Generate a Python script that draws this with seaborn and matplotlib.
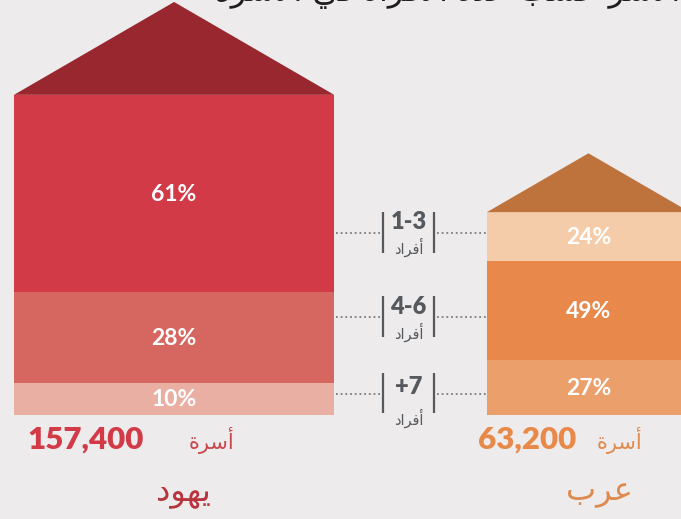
"""Households by number of members: Jews vs Arabs, drawn as two stacked 'houses'."""

import matplotlib

matplotlib.use("Agg")
import matplotlib.pyplot as plt
import numpy as np
import pandas as pd
import seaborn as sns

# ---- data -------------------------------------------------------------
groups = ["يهود", "عرب"]
households = [157400, 63200]
household_labels = ["157,400", "63,200"]
size_groups = ["1-3", "4-6", "+7"]
pct_jews = [61, 28, 10]
pct_arabs = [24, 49, 27]
unit_word = "أسرة"
members_word = "أفراد"
title = "الأسر حسب عدد الأفراد في الأسرة"

# ---- style ------------------------------------------------------------
BG = "#edebeb"
ROOF = ["#98272f", "#bf733c"]
SEG = [["#d13a46", "#d56760", "#eaafa3"], ["#f4cca9", "#e8894b", "#eba06c"]]
NUM_C = ["#d13a46", "#e8894a"]
WORD_C = ["#c9474f", "#e08a50"]
NAME_C = ["#b8353d", "#df8a4e"]
GREY = "#55595d"

AR_FONT = ["DejaVu Sans"]
NUM_FONT = ["Lato", "DejaVu Sans"]

# matplotlib has no Arabic shaping: map to presentation forms + visual order
_FOUR = {"ئ": 0xFE89, "ب": 0xFE8F, "ت": 0xFE95, "ث": 0xFE99, "ج": 0xFE9D,
         "ح": 0xFEA1, "خ": 0xFEA5, "س": 0xFEB1, "ش": 0xFEB5, "ص": 0xFEB9,
         "ض": 0xFEBD, "ط": 0xFEC1, "ظ": 0xFEC5, "ع": 0xFEC9, "غ": 0xFECD,
         "ف": 0xFED1, "ق": 0xFED5, "ك": 0xFED9, "ل": 0xFEDD, "م": 0xFEE1,
         "ن": 0xFEE5, "ه": 0xFEE9, "ي": 0xFEF1}
_TWO = {"آ": 0xFE81, "أ": 0xFE83, "ؤ": 0xFE85, "إ": 0xFE87, "ا": 0xFE8D,
        "ة": 0xFE93, "د": 0xFEA9, "ذ": 0xFEAB, "ر": 0xFEAD, "ز": 0xFEAF,
        "و": 0xFEED, "ى": 0xFEEF}
_LAM_ALEF = {"آ": 0xFEF5, "أ": 0xFEF7, "إ": 0xFEF9, "ا": 0xFEFB}


def ar(text: str) -> str:
    out = []
    i, n = 0, len(text)
    while i < n:
        c = text[i]
        joins_prev = i > 0 and text[i - 1] in _FOUR
        if c == "ل" and i + 1 < n and text[i + 1] in _LAM_ALEF:
            out.append(chr(_LAM_ALEF[text[i + 1]] + int(joins_prev)))
            i += 2
            continue
        nxt = text[i + 1] if i + 1 < n else ""
        joins_next = nxt in _FOUR or nxt in _TWO
        if c in _FOUR:
            if joins_prev:
                form = 3 if joins_next else 1
            else:
                form = 2 if joins_next else 0
            out.append(chr(_FOUR[c] + form))
        elif c in _TWO:
            out.append(chr(_TWO[c] + int(joins_prev)))
        else:
            out.append(c)
        i += 1
    return "".join(reversed(out))


sns.set_theme(style="white", rc={"figure.facecolor": BG, "axes.facecolor": BG})

W, H = 681, 519
fig = plt.figure(figsize=(W / 100, H / 100), dpi=100)
ax = fig.add_axes([0, 0, 1, 1])
ax.set_xlim(0, W)
ax.set_ylim(H, 0)
ax.axis("off")

# house layout (pixel space): side length ~ sqrt(households)
scale = 0.807
base_y = 415
house_x0 = [14, 487]
roof_ratio = 0.29

df = pd.DataFrame({
    "group": np.repeat(groups, len(size_groups)),
    "size": size_groups * 2,
    "pct": pct_jews + pct_arabs,
})

for g, (grp, n, x0) in enumerate(zip(groups, households, house_x0)):
    side = scale * np.sqrt(n)
    cx = x0 + side / 2
    sub = df[df["group"] == grp]
    heights = sub["pct"].to_numpy() / sub["pct"].sum() * side
    tops = base_y - side + np.concatenate([[0], np.cumsum(heights)[:-1]])
    ax.bar(cx, heights, bottom=tops, width=side, color=SEG[g], linewidth=0)
    for t, h, p in zip(tops, heights, sub["pct"]):
        ax.text(cx, t + h / 2 + 1, f"{p}%", ha="center", va="center",
                color="white", fontsize=16.5, fontweight="bold",
                family=NUM_FONT)
    top = base_y - side
    ax.fill([x0, cx, x0 + side], [top, top - roof_ratio * side, top],
            color=ROOF[g], linewidth=0)

# bottom captions
num_x = [86, 527]
word_x = [211, 619]
name_x = [183, 599]
for g in range(2):
    ax.text(num_x[g], 440, household_labels[g], ha="center", va="center",
            color=NUM_C[g], fontsize=22.5, fontweight="heavy",
            family=NUM_FONT)
    ax.text(word_x[g], 440, ar(unit_word), ha="center", va="center",
            color=WORD_C[g], fontsize=15, family=AR_FONT)
    ax.text(name_x[g], 492, ar(groups[g]), ha="center", va="center",
            color=NAME_C[g], fontsize=23, family=AR_FONT)

# middle legend with dotted connectors
rows = [233, 317, 394]
num_y = [222, 307, 387]
word_y = [247, 332, 418]
bar_span = [(212, 253), (296, 337), (373, 413)]
left_edge = house_x0[0] + scale * np.sqrt(households[0])
for r, lab, ny, wy, (b0, b1) in zip(rows, size_groups, num_y, word_y, bar_span):
    ax.hlines(r, left_edge + 2, 380, color="#7d7d7d", lw=1.3,
              linestyles=(0, (1, 1.6)))
    ax.hlines(r, 437, house_x0[1] - 1, color="#7d7d7d", lw=1.3,
              linestyles=(0, (1, 1.6)))
    ax.vlines([383, 434], b0, b1, color=GREY, lw=1.6)
    ax.text(408.5, ny, lab, ha="center", va="center", color=GREY,
            fontsize=17, fontweight="heavy", family=NUM_FONT)
    ax.text(408.5, wy, ar(members_word), ha="center", va="center",
            color=GREY, fontsize=10.5, family=AR_FONT)

# title, clipped by the top edge in the source image
ax.text(680, 1, ar(title), ha="right", va="baseline", color="#1e1e1e",
        fontsize=23, family=AR_FONT)

fig.savefig("out.png", dpi=100, facecolor=BG)
